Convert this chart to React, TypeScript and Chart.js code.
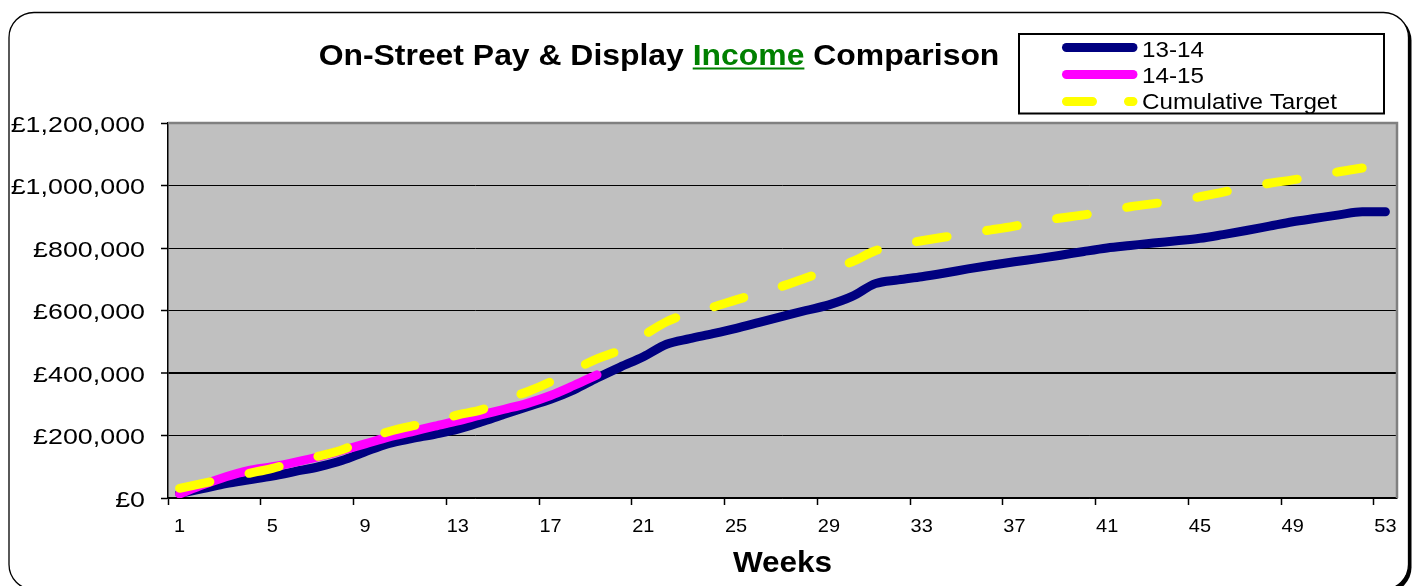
import React, { useEffect, useRef } from "react";
import { Chart, registerables } from "chart.js";

Chart.register(...registerables);

// ---------- data ----------
const weeks = [
  "1", "2", "3", "4", "5", "6", "7", "8", "9", "10", "11", "12", "13", "14", "15", "16", "17", "18",
  "19", "20", "21", "22", "23", "24", "25", "26", "27", "28", "29", "30", "31", "32", "33", "34", "35",
  "36", "37", "38", "39", "40", "41", "42", "43", "44", "45", "46", "47", "48", "49", "50", "51", "52", "53",
];

const income1314 = [
  15000, 30000, 46000, 58000, 70000, 85000, 100000, 120000, 148000, 174000, 190000, 204000, 220000,
  243000, 268000, 292000, 316000, 346000, 384000, 419000, 452000, 492000, 510000, 526000, 543000,
  562000, 581000, 600000, 618000, 645000, 686000, 698000, 708000, 720000, 733000, 745000, 756000,
  766000, 777000, 789000, 800000, 808000, 816000, 823000, 831000, 843000, 856000, 870000, 884000,
  895000, 906000, 916000, 916000,
];

const income1415 = [
  13000, 42000, 68000, 88000, 100000, 115000, 132000, 152000, 173000, 195000, 212000, 230000, 247000,
  266000, 284000, 303000, 328000, 360000, 394000,
];

const cumulativeTarget = [
  31000, 47000, 63000, 79000, 95000, 116000, 134000, 154000, 186000, 212000, 230000, 244000, 266000,
  282000, 314000, 340000, 372000, 410000, 445000, 474000, 520000, 564000, 592000, 611000, 634000,
  656000, 678000, 704000, 730000, 756000, 791000, 810000, 823000, 835000, 847000, 858000, 870000,
  885000, 896000, 906000, 919000, 932000, 942000, 951000, 964000, 979000, 994000, 1007000, 1018000,
  1030000, 1044000, 1056000,
];

const yTickValues = [0, 200000, 400000, 600000, 800000, 1000000, 1200000];
const titleParts = ["On-Street Pay & Display ", "Income", " Comparison"];
const xAxisTitle = "Weeks";

// ---------- helpers ----------
const FONT = '"Liberation Sans", Arial, sans-serif';

function drawText(
  ctx: CanvasRenderingContext2D,
  text: string,
  x: number,
  y: number,
  font: string,
  color: string,
  align: "left" | "center" | "right",
  sx: number
) {
  ctx.save();
  ctx.font = font;
  ctx.fillStyle = color;
  ctx.textBaseline = "alphabetic";
  ctx.textAlign = "left";
  const w = ctx.measureText(text).width * sx;
  let left = x;
  if (align === "center") left = x - w / 2;
  else if (align === "right") left = x - w;
  ctx.translate(left, y);
  ctx.scale(sx, 1);
  ctx.fillText(text, 0, 0);
  ctx.restore();
  return w;
}

function roundRectPath(ctx: CanvasRenderingContext2D, x: number, y: number, w: number, h: number, r: number) {
  ctx.beginPath();
  ctx.moveTo(x + r, y);
  ctx.lineTo(x + w - r, y);
  ctx.arcTo(x + w, y, x + w, y + r, r);
  ctx.lineTo(x + w, y + h - r);
  ctx.arcTo(x + w, y + h, x + w - r, y + h, r);
  ctx.lineTo(x + r, y + h);
  ctx.arcTo(x, y + h, x, y + h - r, r);
  ctx.lineTo(x, y + r);
  ctx.arcTo(x, y, x + r, y, r);
  ctx.closePath();
}

const fmtMoney = (v: number) => "£" + v.toLocaleString("en-GB");

const decorPlugin = {
  id: "decor",
  beforeDraw(chart: any) {
    const ctx: CanvasRenderingContext2D = chart.ctx;
    const { width, height, chartArea } = chart;
    ctx.save();
    ctx.fillStyle = "#ffffff";
    ctx.fillRect(0, 0, width, height);
    // shadow
    roundRectPath(ctx, 12, 15.5, 1399.5, 577, 25);
    ctx.fillStyle = "#000000";
    ctx.fill();
    // frame
    roundRectPath(ctx, 9, 12.5, 1399.5, 577, 25);
    ctx.fillStyle = "#ffffff";
    ctx.fill();
    ctx.lineWidth = 1.3;
    ctx.strokeStyle = "#000000";
    ctx.stroke();
    // plot background
    ctx.fillStyle = "#C0C0C0";
    ctx.fillRect(chartArea.left, chartArea.top, chartArea.right - chartArea.left, chartArea.bottom - chartArea.top);
    ctx.restore();
  },
  beforeDatasetsDraw(chart: any) {
    const ctx: CanvasRenderingContext2D = chart.ctx;
    const { chartArea } = chart;
    ctx.save();
    ctx.strokeStyle = "#808080";
    ctx.lineWidth = 2.5;
    ctx.beginPath();
    ctx.moveTo(chartArea.left, chartArea.top);
    ctx.lineTo(chartArea.right, chartArea.top);
    ctx.lineTo(chartArea.right, chartArea.bottom);
    ctx.stroke();
    ctx.restore();
  },
  afterDraw(chart: any) {
    const ctx: CanvasRenderingContext2D = chart.ctx;
    const xs = chart.scales.x;
    const ys = chart.scales.y;

    // y tick labels
    for (const t of ys.ticks) {
      const py = ys.getPixelForValue(t.value);
      drawText(ctx, fmtMoney(t.value), 145, py + 8.5, `22px ${FONT}`, "#000", "right", 1.22);
    }
    // x tick labels
    weeks.forEach((lab, i) => {
      if (i % 4 !== 0) return;
      const px = xs.getPixelForValue(i);
      drawText(ctx, lab, px, 531.5, `19px ${FONT}`, "#000", "center", 1.05);
    });
    // x axis title
    drawText(ctx, xAxisTitle, (chart.chartArea.left + chart.chartArea.right) / 2, 571.5, `bold 30px ${FONT}`, "#000", "center", 1.05);

    // title
    const tFont = `bold 29px ${FONT}`;
    const tsx = 1.1;
    ctx.save();
    ctx.font = tFont;
    const widths = titleParts.map((p) => ctx.measureText(p).width * tsx);
    ctx.restore();
    const total = widths.reduce((a, b) => a + b, 0);
    let tx = 659 - total / 2;
    const tBase = 65;
    titleParts.forEach((p, i) => {
      const col = i === 1 ? "#008000" : "#000000";
      drawText(ctx, p, tx, tBase, tFont, col, "left", tsx);
      if (i === 1) {
        ctx.save();
        ctx.strokeStyle = "#008000";
        ctx.lineWidth = 2;
        ctx.beginPath();
        ctx.moveTo(tx, tBase + 3.5);
        ctx.lineTo(tx + widths[i], tBase + 3.5);
        ctx.stroke();
        ctx.restore();
      }
      tx += widths[i];
    });

    // legend
    ctx.save();
    ctx.fillStyle = "#ffffff";
    ctx.fillRect(1019, 34, 365, 79.5);
    ctx.strokeStyle = "#000";
    ctx.lineWidth = 2;
    ctx.strokeRect(1019, 34, 365, 79.5);
    ctx.restore();
    const rows = [47.5, 74.5, 101.5];
    const bases = [56.5, 82.5, 109];
    chart.data.datasets.forEach((ds: any, i: number) => {
      ctx.save();
      ctx.strokeStyle = ds.borderColor;
      ctx.lineWidth = 9;
      ctx.lineCap = "round";
      if (ds.borderDash && ds.borderDash.length) ctx.setLineDash([26, 36]);
      ctx.beginPath();
      ctx.moveTo(1066.5, rows[i]);
      ctx.lineTo(1133, rows[i]);
      ctx.stroke();
      ctx.restore();
      drawText(ctx, ds.label, 1142, bases[i], `22px ${FONT}`, "#000", "left", 1.1);
    });
  },
};

export default function App() {
  const ref = useRef<HTMLCanvasElement>(null);
  useEffect(() => {
    const canvas = ref.current;
    if (!canvas) return;
    const common = {
      pointRadius: 0,
      pointHoverRadius: 0,
      borderWidth: 9,
      cubicInterpolationMode: "monotone" as const,
      fill: false,
      borderCapStyle: "round" as const,
      borderJoinStyle: "round" as const,
    };
    const chart = new Chart(canvas, {
      type: "line",
      data: {
        labels: weeks,
        datasets: [
          { ...common, label: "13-14", data: income1314, borderColor: "#000080", backgroundColor: "#000080", order: 3 },
          { ...common, label: "14-15", data: income1415, borderColor: "#FF00FF", backgroundColor: "#FF00FF", order: 2 },
          {
            ...common,
            label: "Cumulative Target",
            data: cumulativeTarget,
            borderColor: "#FFFF00",
            backgroundColor: "#FFFF00",
            borderDash: [31, 40],
            order: 1,
          },
        ],
      },
      options: {
        responsive: false,
        animation: false,
        devicePixelRatio: 1,
        layout: { padding: { top: 123, right: 22, left: 0, bottom: 0 } },
        plugins: {
          legend: { display: false },
          title: { display: false },
          tooltip: { enabled: false },
        },
        events: [],
        scales: {
          x: {
            type: "category",
            offset: true,
            ticks: { display: false, autoSkip: false },
            grid: {
              offset: true,
              drawOnChartArea: false,
              drawTicks: true,
              tickLength: 7,
              tickWidth: 1.5,
              tickColor: (c: any) => (c.index % 4 === 0 && c.index < weeks.length ? "#000000" : "rgba(0,0,0,0)"),
            },
            border: { display: true, color: "#000000", width: 1.5 },
            afterFit: (s: any) => {
              s.height = 88;
            },
          },
          y: {
            min: 0,
            max: 1200000,
            afterBuildTicks: (s: any) => {
              s.ticks = yTickValues.map((v) => ({ value: v }));
            },
            ticks: { display: false },
            grid: {
              color: "#000000",
              lineWidth: (c: any) => (c.tick && c.tick.value === 400000 ? 2 : 1),
              tickLength: 7,
              tickColor: "#000000",
              tickWidth: 1.5,
            },
            border: { display: true, color: "#000000", width: 1.5 },
            afterFit: (s: any) => {
              s.width = 168;
            },
          },
        },
      },
      plugins: [decorPlugin],
    });
    return () => chart.destroy();
  }, []);
  return (
    <canvas
      ref={ref}
      width={1419}
      height={586}
      style={{ position: "absolute", left: 0, top: 0, display: "block", width: 1419, height: 586 }}
    />
  );
}
